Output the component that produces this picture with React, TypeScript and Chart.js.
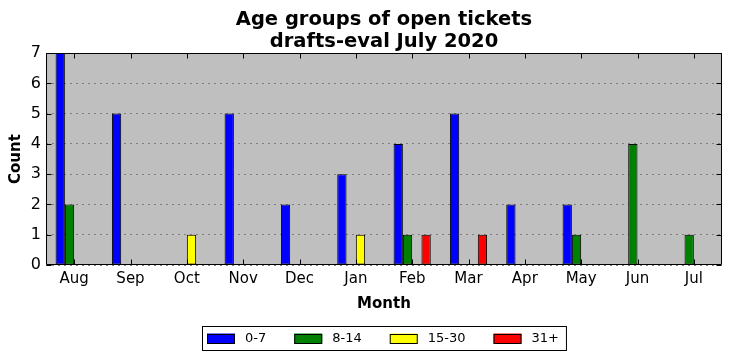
import React, { useEffect, useRef } from 'react';
import { Chart, registerables } from 'chart.js';

Chart.register(...registerables);

const months = ['Aug', 'Sep', 'Oct', 'Nov', 'Dec', 'Jan', 'Feb', 'Mar', 'Apr', 'May', 'Jun', 'Jul'];
const age0to7 = [7, 5, 0, 5, 2, 3, 4, 5, 2, 2, 0, 0];
const age8to14 = [2, 0, 0, 0, 0, 0, 1, 0, 0, 1, 4, 1];
const age15to30 = [0, 0, 1, 0, 0, 1, 0, 0, 0, 0, 0, 0];
const age31plus = [0, 0, 0, 0, 0, 0, 1, 1, 0, 0, 0, 0];
const seriesLabels = ['0-7', '8-14', '15-30', '31+'];
const seriesColors = ['#0000ff', '#008000', '#ffff00', '#ff0000'];
const titleLines = ['Age groups of open tickets', 'drafts-eval July 2020'];
const yMin = 0;
const yMax = 7;

const FONT = '"DejaVu Sans", sans-serif';

const framePlugin = {
  id: 'mplFrame',
  beforeDraw(chart: any) {
    const { ctx, chartArea: a } = chart;
    ctx.save();
    ctx.fillStyle = '#bfbfbf';
    ctx.fillRect(a.left, a.top, a.right - a.left, a.bottom - a.top);
    ctx.restore();
  },
  afterDraw(chart: any) {
    const { ctx, chartArea: a, scales } = chart;
    ctx.save();
    ctx.strokeStyle = '#000';
    ctx.lineWidth = 1;
    const L = Math.round(a.left) + 0.5;
    const R = Math.round(a.right) - 0.5;
    const T = Math.round(a.top) + 0.5;
    const B = Math.round(a.bottom) - 0.5;
    ctx.beginPath();
    ctx.rect(L, T, R - L, B - T);
    ctx.stroke();
    const tl = 5;
    ctx.beginPath();
    scales.x.ticks.forEach((_t: any, i: number) => {
      const x = Math.round(scales.x.getPixelForTick(i)) + 0.5;
      ctx.moveTo(x, B);
      ctx.lineTo(x, B - tl);
      ctx.moveTo(x, T);
      ctx.lineTo(x, T + tl);
    });
    scales.y.ticks.forEach((t: any) => {
      const y = Math.round(scales.y.getPixelForValue(t.value)) + 0.5;
      ctx.moveTo(L, y);
      ctx.lineTo(L + tl, y);
      ctx.moveTo(R, y);
      ctx.lineTo(R - tl, y);
    });
    ctx.stroke();

    // legend
    ctx.font = '13px ' + FONT;
    const patchW = 28;
    const patchH = 10;
    const textGap = 10;
    const colGap = 28;
    const padL = 5;
    const padR = 7;
    const widths = seriesLabels.map((s) => ctx.measureText(s).width);
    let total = padL + padR + colGap * (seriesLabels.length - 1);
    widths.forEach((w) => (total += patchW + textGap + w));
    const cx = (a.left + a.right) / 2;
    const x0 = Math.round(cx - total / 2);
    const boxTop = chart.height - 35;
    const boxH = 24;
    ctx.strokeRect(x0 + 0.5, boxTop + 0.5, total, boxH);
    let x = x0 + padL;
    const cy = boxTop + boxH / 2 + 0.5;
    seriesLabels.forEach((s, i) => {
      ctx.fillStyle = seriesColors[i];
      ctx.fillRect(x, cy - patchH / 2, patchW, patchH);
      ctx.strokeStyle = '#000';
      ctx.strokeRect(x + 0.5, Math.round(cy - patchH / 2) + 0.5, patchW - 1, patchH - 1);
      ctx.fillStyle = '#000';
      ctx.textBaseline = 'middle';
      ctx.textAlign = 'left';
      ctx.fillText(s, x + patchW + textGap, cy);
      x += patchW + textGap + widths[i] + colGap;
    });
    ctx.restore();
  },
};

export default function App() {
  const ref = useRef<HTMLCanvasElement | null>(null);
  useEffect(() => {
    if (!ref.current) return;
    Chart.defaults.font.family = FONT;
    Chart.defaults.color = '#000';
    const series = [age0to7, age8to14, age15to30, age31plus];
    const chart = new Chart(ref.current, {
      type: 'bar',
      data: {
        labels: months,
        datasets: series.map((d, i) => ({
          label: seriesLabels[i],
          data: d,
          backgroundColor: seriesColors[i],
          borderColor: '#000',
          borderWidth: 1,
          borderSkipped: false,
          categoryPercentage: 0.66,
          barPercentage: 1,
        })),
      },
      options: {
        animation: false,
        responsive: false,
        layout: { padding: { top: 0, right: 10, bottom: 48, left: 0 } },
        plugins: {
          legend: { display: false },
          tooltip: { enabled: false },
          title: {
            display: true,
            text: titleLines,
            fullSize: false,
            font: { size: 19.5, weight: 'bold', lineHeight: 1.13 },
            padding: { top: 9, bottom: 0 },
            color: '#000',
          },
        },
        scales: {
          x: {
            type: 'category',
            offset: true,
            grid: { display: false, drawTicks: false },
            border: { display: false },
            ticks: { font: { size: 15 }, padding: 5, maxRotation: 0, autoSkip: false },
            title: {
              display: true,
              text: 'Month',
              font: { size: 15, weight: 'bold' },
              padding: { top: 0, bottom: 0 },
            },
            afterFit: (s: any) => {
              s.height = 48;
            },
          },
          y: {
            min: yMin,
            max: yMax,
            grid: { display: true, drawTicks: false, color: '#7f7f7f', lineWidth: 1 },
            border: { display: false, dash: [2, 4] },
            ticks: { stepSize: 1, font: { size: 16 }, padding: 5 },
            title: {
              display: true,
              text: 'Count',
              font: { size: 15, weight: 'bold' },
              padding: { top: 7.5, bottom: 0 },
            },
            afterFit: (s: any) => {
              s.width = 46;
            },
          },
        },
      },
      plugins: [framePlugin],
    });
    return () => chart.destroy();
  }, []);
  return (
    <div style={{ position: 'absolute', left: 0, top: 0, width: 732, height: 361, background: '#fff' }}>
      <canvas ref={ref} width={732} height={361} style={{ display: 'block' }} />
    </div>
  );
}
